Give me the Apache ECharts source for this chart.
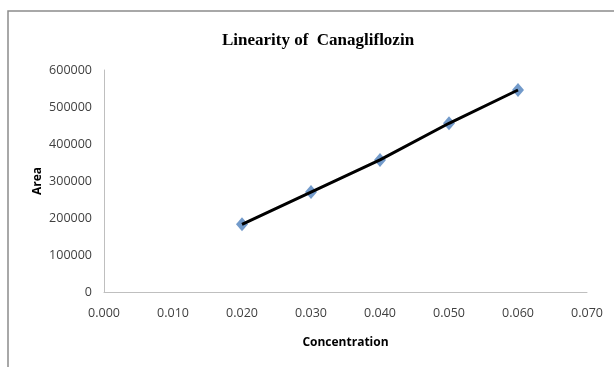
<!DOCTYPE html>
<html>
<head>
<meta charset="utf-8">
<script src="https://cdn.jsdelivr.net/npm/echarts@6/dist/echarts.min.js"></script>
<style>html,body{margin:0;padding:0;background:#fff}#c{width:614px;height:367px}</style>
</head>
<body>
<div id="c"></div>
<script>
const concentrations = [0.020, 0.030, 0.040, 0.050, 0.060];
const areas = [183000, 270000, 357000, 456000, 546000];
const xTicks = ['0.000','0.010','0.020','0.030','0.040','0.050','0.060','0.070'];
const yTicks = ['0','100000','200000','300000','400000','500000','600000'];

const pts = concentrations.map((c, i) => [c, areas[i]]);
const chart = echarts.init(document.getElementById('c'), null, {renderer: 'canvas'});
chart.setOption({
  animation: false,
  backgroundColor: '#fff',
  title: {
    text: 'Linearity of  Canagliflozin',
    left: 313, top: 27, textAlign: 'center',
    textStyle: {fontFamily: 'Liberation Serif', fontWeight: 'bold', fontSize: 17, color: '#000'}
  },
  graphic: [{
    type: 'rect', shape: {x: 8, y: 11, width: 640, height: 400},
    style: {fill: 'none', stroke: '#8c8c8c', lineWidth: 1.5}, silent: true
  }],
  grid: {left: 104, right: 27, top: 70, bottom: 75},
  xAxis: {
    type: 'value', min: 0, max: 0.07, interval: 0.01,
    name: 'Concentration', nameLocation: 'middle', nameGap: 45, nameMoveOverlap: false,
    nameTextStyle: {fontFamily: 'Open Sans', fontWeight: 'bold', fontSize: 12, color: '#000'},
    axisLine: {show: true, lineStyle: {color: '#bfbfbf', width: 1}},
    axisTick: {show: false}, splitLine: {show: false},
    axisLabel: {margin: 15, fontFamily: 'Open Sans', fontSize: 12.5, color: '#404040',
      formatter: (v) => xTicks[Math.round(v / 0.01)]}
  },
  yAxis: {
    type: 'value', min: 0, max: 600000, interval: 100000,
    name: 'Area', nameLocation: 'middle', nameGap: 60, nameRotate: 90, nameMoveOverlap: false,
    nameTextStyle: {fontFamily: 'Open Sans', fontWeight: 'bold', fontSize: 12, color: '#000'},
    axisLine: {show: true, lineStyle: {color: '#bfbfbf', width: 1}},
    axisTick: {show: false}, splitLine: {show: false},
    axisLabel: {margin: 12, fontFamily: 'Open Sans', fontSize: 12.5, color: '#404040',
      formatter: (v) => yTicks[Math.round(v / 100000)]}
  },
  series: [
    {
      type: 'scatter', data: pts, symbol: 'diamond', symbolSize: [12, 14], z: 2,
      itemStyle: {color: '#4f81bd'}
    },
    {
      type: 'line', data: pts, showSymbol: false, symbol: 'none', z: 3,
      lineStyle: {color: '#000', width: 3}
    }
  ]
});
</script>
</body>
</html>
